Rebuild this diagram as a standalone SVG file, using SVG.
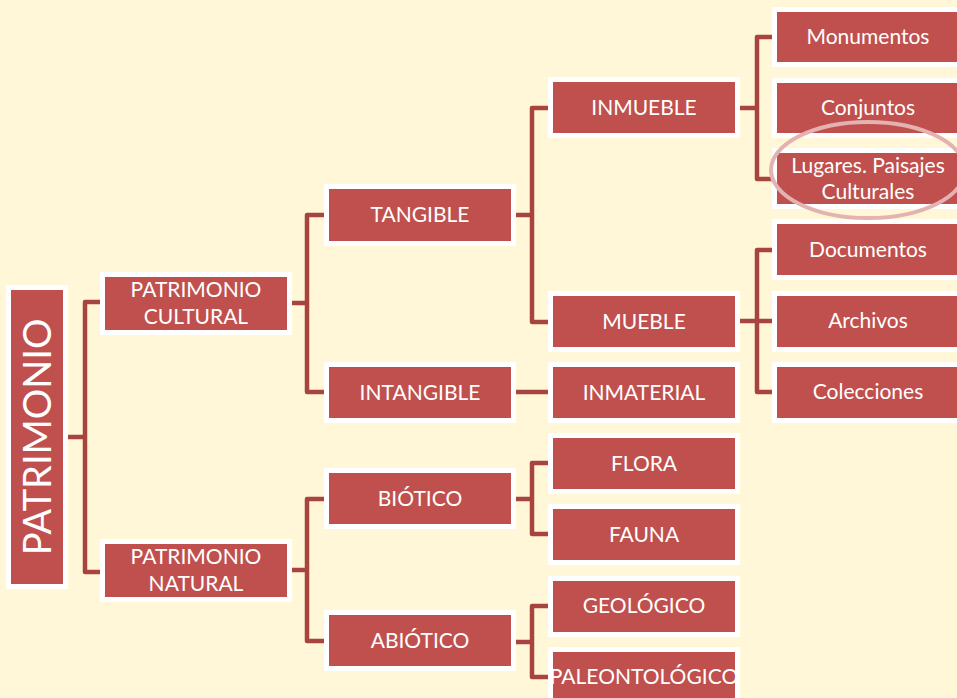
<svg xmlns="http://www.w3.org/2000/svg" width="957" height="698" viewBox="0 0 957 698">
<style>
.bx{fill:#C0504D;stroke:#FFFFFF;stroke-width:5}
.t{font-family:Lato,"Liberation Sans",sans-serif;font-size:21px;fill:#FFFFFF;text-anchor:middle}
.c{fill:none;stroke:#A8443F;stroke-width:4.5;stroke-linejoin:round;stroke-linecap:butt}
</style>
<rect x="0" y="0" width="957" height="698" fill="#FFF7D7"/>
<g id="connectors">
<path class="c" d="M67 437H85M100 302H85V572H100"/>
<path class="c" d="M291 303H307M326 215H307V392H326"/>
<path class="c" d="M291 570H307M326 499H307V641H326"/>
<path class="c" d="M515 215H532M550 108H532V322H550"/>
<path class="c" d="M515 392H550"/>
<path class="c" d="M515 499H532M550 463H532V534H550"/>
<path class="c" d="M515 642H532M550 606H532V677H550"/>
<path class="c" d="M739 108H757M774 37H757V179H774"/>
<path class="c" d="M739 321H774M774 250H757V392H774"/>
</g>
<g id="patrimonio"><rect class="bx" x="8.5" y="287.5" width="57" height="299"/><text class="t" style="font-size:38px" transform="translate(51,437) rotate(-90)">PATRIMONIO</text></g>
<g id="pcultural"><rect class="bx" x="102.5" y="274.5" width="187" height="58"/><text class="t" x="196" y="297">PATRIMONIO</text><text class="t" x="196" y="324">CULTURAL</text></g>
<g id="pnatural"><rect class="bx" x="102.5" y="541.5" width="187" height="58"/><text class="t" x="196" y="564">PATRIMONIO</text><text class="t" x="196" y="591">NATURAL</text></g>
<g id="tangible"><rect class="bx" x="326.5" y="186.5" width="187" height="57"/><text class="t" x="420" y="222">TANGIBLE</text></g>
<g id="intangible"><rect class="bx" x="326.5" y="364.5" width="187" height="56"/><text class="t" x="420" y="400">INTANGIBLE</text></g>
<g id="biotico"><rect class="bx" x="326.5" y="470.5" width="187" height="56"/><text class="t" x="420" y="506">BIÓTICO</text></g>
<g id="abiotico"><rect class="bx" x="326.5" y="612.5" width="187" height="56"/><text class="t" x="420" y="648">ABIÓTICO</text></g>
<g id="inmueble"><rect class="bx" x="550.5" y="79.5" width="187" height="56"/><text class="t" x="644" y="115">INMUEBLE</text></g>
<g id="mueble"><rect class="bx" x="550.5" y="293.5" width="187" height="56"/><text class="t" x="644" y="329">MUEBLE</text></g>
<g id="inmaterial"><rect class="bx" x="550.5" y="364.5" width="187" height="56"/><text class="t" x="644" y="400">INMATERIAL</text></g>
<g id="flora"><rect class="bx" x="550.5" y="435.5" width="187" height="56"/><text class="t" x="644" y="471">FLORA</text></g>
<g id="fauna"><rect class="bx" x="550.5" y="506.5" width="187" height="56"/><text class="t" x="644" y="542">FAUNA</text></g>
<g id="geologico"><rect class="bx" x="550.5" y="578.5" width="187" height="56"/><text class="t" x="644" y="613">GEOLÓGICO</text></g>
<g id="paleontologico"><rect class="bx" x="550.5" y="649.5" width="187" height="56"/><text class="t" x="644" y="684">PALEONTOLÓGICO</text></g>
<g id="monumentos"><rect class="bx" x="774.5" y="9.5" width="187" height="55"/><text class="t" x="868" y="44">Monumentos</text></g>
<g id="conjuntos"><rect class="bx" x="774.5" y="80.5" width="187" height="55"/><text class="t" x="868" y="115">Conjuntos</text></g>
<g id="lugares"><rect class="bx" x="774.5" y="150.5" width="187" height="56"/><text class="t" x="868" y="173">Lugares. Paisajes</text><text class="t" x="868" y="199">Culturales</text></g>
<g id="documentos"><rect class="bx" x="774.5" y="221.5" width="187" height="56"/><text class="t" x="868" y="257">Documentos</text></g>
<g id="archivos"><rect class="bx" x="774.5" y="293.5" width="187" height="56"/><text class="t" x="868" y="328">Archivos</text></g>
<g id="colecciones"><rect class="bx" x="774.5" y="364.5" width="187" height="56"/><text class="t" x="868" y="399">Colecciones</text></g>
<ellipse cx="868" cy="170" rx="97" ry="48" fill="none" stroke="#E3B2B1" stroke-width="4"/>
</svg>
